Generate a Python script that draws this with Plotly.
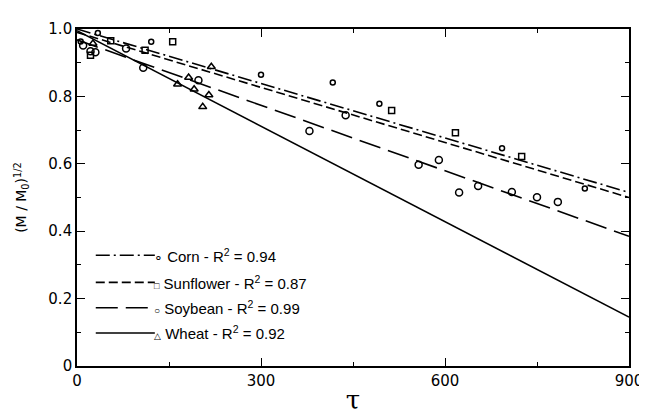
import plotly.graph_objects as go

# ---- data ----
corn_x = [6, 34, 121, 300, 417, 493, 693, 828]
corn_y = [0.963, 0.988, 0.962, 0.864, 0.841, 0.778, 0.646, 0.527]

sunflower_x = [22, 55, 111, 156, 513, 617, 725]
sunflower_y = [0.922, 0.965, 0.937, 0.962, 0.758, 0.692, 0.622]

soybean_x = [10, 22, 30, 80, 108, 198, 379, 438, 557, 590, 623, 654, 709, 750, 784]
soybean_y = [0.951, 0.934, 0.931, 0.942, 0.885, 0.848, 0.697, 0.744, 0.597, 0.611,
             0.515, 0.534, 0.516, 0.501, 0.487]

wheat_x = [26, 164, 182, 191, 205, 215, 219]
wheat_y = [0.957, 0.836, 0.856, 0.821, 0.769, 0.804, 0.888]

fit_x = [0, 900]
corn_fit = [1.0, 0.515]
sunflower_fit = [0.99, 0.50]
soybean_fit = [0.968, 0.385]
wheat_fit = [0.995, 0.145]

names = ["Corn", "Sunflower", "Soybean", "Wheat"]
r2 = ["0.94", "0.87", "0.99", "0.92"]

xtick_vals = [0, 300, 600, 900]
xtick_text = ["0", "300", "600", "900"]
ytick_vals = [0, 0.2, 0.4, 0.6, 0.8, 1.0]
ytick_text = ["0", "0.2", "0.4", "0.6", "0.8", "1.0"]

# ---- styles ----
dashes = ["14px,4px,2px,4px", "9px,4px", "22px,8px", "solid"]
symbols = ["circle-open", "square-open", "circle-open", "triangle-up-open"]
msizes = [5, 6, 7, 7]
glyphs = ["∘", "□", "○", "△"]
gsizes = [14, 9, 10, 9]

fig = go.Figure()
fits = [corn_fit, sunflower_fit, soybean_fit, wheat_fit]
for fy, d in zip(fits, dashes):
    fig.add_trace(go.Scatter(x=fit_x, y=fy, mode="lines",
                             line=dict(color="black", width=1.6, dash=d),
                             showlegend=False, hoverinfo="skip"))

pts = [(corn_x, corn_y), (sunflower_x, sunflower_y), (soybean_x, soybean_y), (wheat_x, wheat_y)]
for (px, py), s, ms in zip(pts, symbols, msizes):
    fig.add_trace(go.Scatter(x=px, y=py, mode="markers",
                             marker=dict(symbol=s, size=ms, color="black",
                                         line=dict(color="black", width=1.5)),
                             showlegend=False))

# ---- custom legend ----
rows_y = [0.3285, 0.248, 0.173, 0.098]
for i in range(4):
    fig.add_shape(type="line", xref="paper", yref="paper",
                  x0=0.034, x1=0.141, y0=rows_y[i], y1=rows_y[i],
                  line=dict(color="black", width=1.6, dash=dashes[i]))
    fig.add_annotation(xref="paper", yref="paper", x=0.136, y=rows_y[i],
                       xanchor="left", yanchor="middle", showarrow=False,
                       text=f"<span style='font-size:{gsizes[i]}px'>{glyphs[i]}</span> {names[i]} - R<sup>2</sup> = {r2[i]}",
                       font=dict(family="Liberation Sans", size=15, color="black"))

fig.update_layout(
    width=647, height=414,
    margin=dict(l=69, r=18, t=20, b=47),
    paper_bgcolor="white", plot_bgcolor="white",
    font=dict(family="DejaVu Sans", size=15, color="black"),
    showlegend=False,
)
fig.update_xaxes(range=[0, 900], tickvals=xtick_vals, ticktext=xtick_text,
                 ticks="inside", ticklen=8, tickwidth=1.3, tickcolor="black",
                 minor=dict(ticks="inside", ticklen=4, dtick=150, tickcolor="black", tickwidth=1.2),
                 showline=True, linecolor="black", linewidth=1.6, mirror="allticks",
                 showgrid=False, zeroline=False,
                 title=dict(text="τ", font=dict(size=26, family="DejaVu Serif"), standoff=2))
fig.update_yaxes(range=[0, 1.0], tickvals=ytick_vals, ticktext=ytick_text,
                 ticks="inside", ticklen=8, tickwidth=1.3, tickcolor="black",
                 minor=dict(ticks="inside", ticklen=4, dtick=0.1, tickcolor="black", tickwidth=1.2),
                 showline=True, linecolor="black", linewidth=1.6, mirror="allticks",
                 showgrid=False, zeroline=False,
                 title=dict(text="(M / M<sub>0</sub>)<sup>1/2</sup>", font=dict(size=14), standoff=18))

fig.write_html("out.html")
